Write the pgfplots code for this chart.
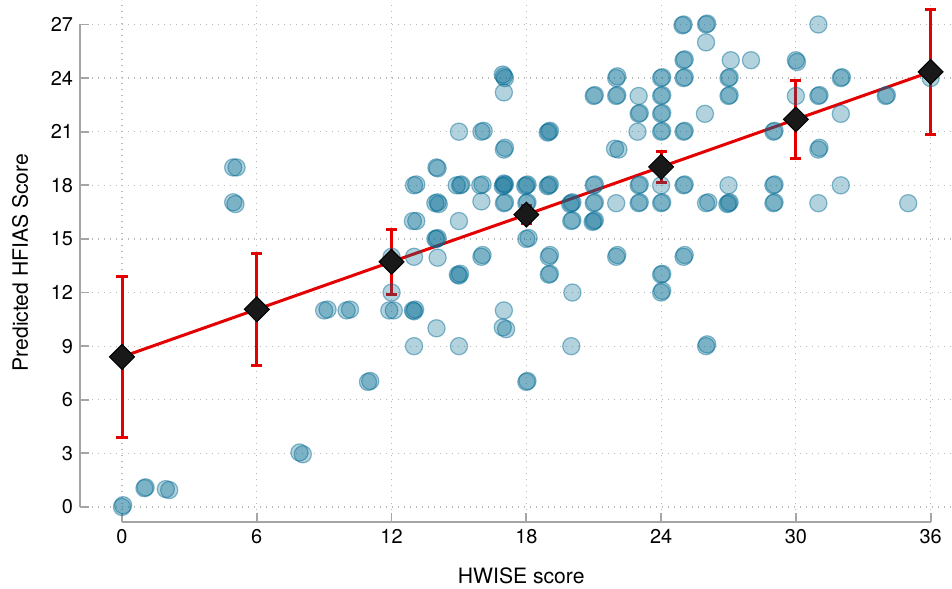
\documentclass[border=0pt]{standalone}
\usepackage{pgfplots}
\pgfplotsset{compat=1.18}
\usepackage{fontspec}
\setmainfont{TeX Gyre Heros}
\definecolor{hw}{RGB}{0,105,145}
\definecolor{rd}{RGB}{228,0,0}
\definecolor{spine}{RGB}{165,165,165}
\begin{document}
\begin{tikzpicture}
\begin{axis}[
  scale only axis, width=436bp, height=261bp,
  xmin=-1.87, xmax=36.95, ymin=-0.84, ymax=28.37,
  axis x line*=bottom, axis y line*=left,
  axis line style={draw=none},
  clip=false,
  xtick={0,6,...,36}, ytick={0,3,...,27},
  tick align=inside, major tick length=4.5bp,
  tick style={spine, line width=0.9bp},
  grid=major,
  grid style={gray!55, dash pattern=on 0.6bp off 2.4bp, line width=0.6bp},
  ticklabel style={font=\fontsize{10}{12}\selectfont},
  /pgf/number format/assume math mode=true,
]
\coordinate (bl) at (rel axis cs:0,0);
\coordinate (tr) at (rel axis cs:1,1);
\draw[spine, line width=0.9bp] (axis cs:-1.87,0) -- (axis cs:-1.87,27);
\draw[spine, line width=0.9bp] (axis cs:0,-0.84) -- (axis cs:36,-0.84);

\addplot[only marks, mark=*, mark size=4.3bp,
  mark options={fill=hw, fill opacity=0.3, draw=hw, draw opacity=0.45, line width=0.6bp}]
coordinates {
(0,0) (0.05,0.1)
(1,1.05) (1.05,1.1)
(1.95,1) (2.1,0.95)
(4.95,19) (5.1,19)
(4.95,17.05) (5.05,16.95)
(7.9,3.05) (8.05,2.95)
(9,11) (9.15,11.05)
(10,11) (10.15,11.05)
(10.95,7) (11.05,7.05)
(11.9,11) (12.1,11)
(12,12)
(12,14)
(12.95,11) (13.05,11.05) (13,10.95)
(13,9)
(13,14)
(12.95,16) (13.1,16)
(13,18) (13.1,18.05)
(14,10)
(14.05,13.95)
(13.95,15) (14.05,15.05) (14,15)
(13.95,17) (14.05,17.05) (14.1,16.95)
(14,19) (14.05,18.95)
(15,9)
(14.95,13) (15.05,13.05) (15,12.95)
(15,16)
(14.9,18) (15.05,18) (15.1,18.05)
(15,21)
(16,14) (16.05,14.1)
(16,17.1)
(15.95,18) (16.05,18.05)
(16,21) (16.1,21.05)
(17,24.1) (17.05,24) (16.95,24.2)
(17,23.2)
(17,20) (17.05,20.1)
(17,18) (17.05,18.05) (16.95,17.95) (17,18.1)
(17,17) (17.05,17.05)
(17,11)
(16.95,10.05) (17.1,9.95)
(18,18) (18.05,18.05) (17.95,17.95)
(18,17) (18.05,17.05)
(18,15) (18.1,15.05)
(18,7) (18.05,7.05)
(19,21) (19.05,21.05) (18.95,20.95)
(19,18) (19.05,18.05) (18.95,17.95)
(19,14) (19.05,14.1)
(19,13) (19.05,13.05)
(20,17) (20.05,17.05) (19.95,16.95)
(20,16) (20.05,16.05)
(20.05,12)
(20,9)
(21,23) (21.05,23.05)
(21,18) (21.05,18.05)
(21,17) (21.05,17.05)
(21,16) (21.05,16.05) (20.95,15.95)
(22,24) (22.05,24.1)
(22,23) (22.05,23.05)
(21.95,20.05) (22.1,20)
(22,17)
(22,14) (22.05,14.1)
(23,23)
(23,22) (23.05,22.05)
(22.95,21)
(23,18) (23.05,18.05)
(23,17) (23.05,17.05)
(24,24) (24.05,24.05)
(24,23) (24.05,23.05)
(24,22) (24.05,22.05)
(24,21) (24.05,21.05)
(24,18)
(24,17) (24.05,17.05)
(24,13) (24.05,13.05)
(24,12) (24.05,12.1)
(25,27) (24.95,26.95)
(25,25) (25.05,25.05)
(25,24) (25.05,24.05)
(25,21) (25.05,21.05)
(25,18) (25.05,18.05)
(25,14) (25.05,14.1)
(26,27) (26.05,27.05)
(26,26)
(25.95,22)
(26,17) (26.1,17.05)
(26,9) (26.05,9.1)
(27.1,25)
(27,24) (27.05,24.05)
(27,23) (27.05,23.05)
(27,18)
(27,17) (27.05,17.05) (26.95,16.95)
(28,25)
(29,21) (29.05,21.05)
(29,18) (29.05,18.05)
(29,17) (29.05,17.05)
(30,25) (30.05,24.9)
(30,23)
(31,27)
(31,23) (31.05,23.05)
(31,20) (31.05,20.1)
(31,17)
(32,24) (32.05,24.05)
(32,22)
(32,18)
(34,23) (34.05,23.05)
(35,17)
(36,24)
};

\addplot[rd, line width=1.5bp] coordinates {
(0,8.4) (6,11.06) (12,13.72) (18,16.36) (24,19.03) (30,21.69) (36,24.35)
};

\addplot[draw=none, mark=none,
  error bars/.cd, y dir=both, y explicit,
  error bar style={rd, line width=1.5bp},
  error mark options={rd, line width=1.5bp, mark size=2.8bp, rotate=90}]
coordinates {
(0,8.4) +- (0,4.5)
(6,11.06) +- (0,3.15)
(12,13.72) +- (0,1.81)
(18,16.36) +- (0,0.5)
(24,19.03) +- (0,0.85)
(30,21.69) +- (0,2.18)
(36,24.35) +- (0,3.5)
};

\addplot[only marks, mark=square*, mark size=4.4bp,
  mark options={rotate=45, fill=black!90, draw=black, line width=0.5bp}]
coordinates {
(0,8.4) (6,11.06) (12,13.72) (18,16.36) (24,19.03) (30,21.69) (36,24.35)
};

\node[anchor=base, font=\fontsize{10.6}{12}\selectfont] at ([yshift=-30.5bp]rel axis cs:0.506,0) {HWISE score};
\node[rotate=90, anchor=base, font=\fontsize{10.6}{12}\selectfont] at ([xshift=-26bp]rel axis cs:0,0.497) {Predicted HFIAS Score};
\end{axis}
\pgfresetboundingbox
\path ([xshift=-40bp,yshift=-33.5bp]bl) rectangle (tr);
\end{tikzpicture}
\end{document}
